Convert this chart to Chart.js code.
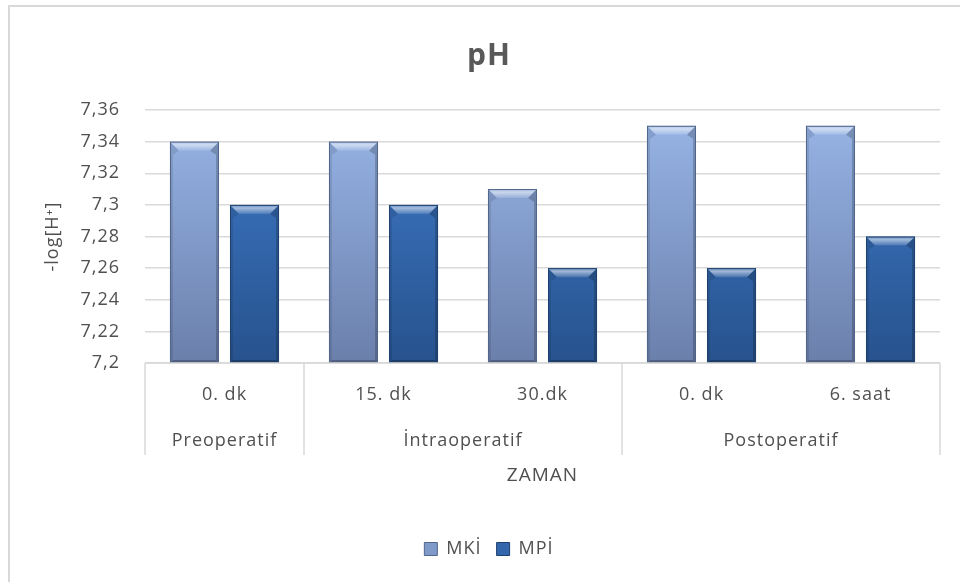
<!DOCTYPE html>
<html>
<head>
<meta charset="utf-8">
<script src="https://cdn.jsdelivr.net/npm/chart.js@4"></script>
<style>
    html, body { margin: 0; padding: 0; background: #fff; overflow: hidden; }
    #frame { position: absolute; left: 8px; top: 5px; width: 1000px; height: 700px; border: 2px solid #d9d9d9; }
    #wrap { position: absolute; left: 0; top: 0; width: 960px; height: 582px; }
</style>
</head>
<body>
<div id="frame"></div>
<div id="wrap"><canvas id="ph-chart"></canvas></div>
<script>
// Chart data
const timeLabels = ['0. dk', '15. dk', '30.dk', '0. dk', '6. saat'];
const phaseLabels = ['Preoperatif', 'İntraoperatif', 'Postoperatif'];
const phaseSpans = [1, 2, 2];
const mkiValues = [7.34, 7.34, 7.31, 7.35, 7.35];
const mpiValues = [7.30, 7.30, 7.26, 7.26, 7.28];
const yMin = 7.2;
const yMax = 7.36;
const yStep = 0.02;

const textColor = '#505050';
const lineColor = '#d9d9d9';
const fontFamily = '"Open Sans", Lato, sans-serif';

// Vertical gradient across the plot area
function barGradient(chart, topColor, bottomColor) {
    const area = chart.chartArea;
    if (!area) return bottomColor;
    const g = chart.ctx.createLinearGradient(0, area.top, 0, area.bottom);
    g.addColorStop(0, topColor);
    g.addColorStop(1, bottomColor);
    return g;
}

// Format tick as 7,36 / 7,3 / 7,2
function formatTick(value) {
    return parseFloat(value.toFixed(2)).toString().replace('.', ',');
}

// Slightly spaced lettering, like the original rendering
const spacingPlugin = {
    id: 'spacing',
    beforeUpdate(chart) { chart.ctx.letterSpacing = '1px'; },
    beforeDraw(chart) { chart.ctx.letterSpacing = '1px'; }
};

// Bevel highlights on each bar (uses the bar elements placed by Chart.js)
const bevelPlugin = {
    id: 'bevel',
    afterDatasetsDraw(chart) {
        const ctx = chart.ctx;
        const area = chart.chartArea;
        ctx.save();
        ctx.beginPath();
        ctx.rect(area.left, area.top, area.right - area.left, area.bottom - area.top);
        ctx.clip();
        chart.data.datasets.forEach((ds, di) => {
            chart.getDatasetMeta(di).data.forEach(bar => {
                const l = bar.x - bar.width / 2;
                const r = bar.x + bar.width / 2;
                const t = bar.y;
                const b = Math.min(bar.base, area.bottom);
                const tb = 9, sb = 3;
                // top bevel
                const tg = ctx.createLinearGradient(0, t, 0, t + tb);
                tg.addColorStop(0, 'rgba(255,255,255,0.25)');
                tg.addColorStop(0.35, 'rgba(255,255,255,0.55)');
                tg.addColorStop(1, 'rgba(255,255,255,0.12)');
                ctx.beginPath();
                ctx.moveTo(l, t); ctx.lineTo(r, t); ctx.lineTo(r - tb, t + tb); ctx.lineTo(l + tb, t + tb);
                ctx.closePath();
                ctx.fillStyle = tg;
                ctx.fill();
                // left side
                ctx.beginPath();
                ctx.moveTo(l, t); ctx.lineTo(l + tb, t + tb); ctx.lineTo(l + sb, t + tb + 4); ctx.lineTo(l + sb, b - sb); ctx.lineTo(l, b);
                ctx.closePath();
                ctx.fillStyle = 'rgba(0,0,0,0.10)';
                ctx.fill();
                // right side
                ctx.beginPath();
                ctx.moveTo(r, t); ctx.lineTo(r - tb, t + tb); ctx.lineTo(r - sb, t + tb + 4); ctx.lineTo(r - sb, b - sb); ctx.lineTo(r, b);
                ctx.closePath();
                ctx.fillStyle = 'rgba(0,0,0,0.2)';
                ctx.fill();
                // bottom
                ctx.beginPath();
                ctx.moveTo(l, b); ctx.lineTo(r, b); ctx.lineTo(r - sb, b - sb); ctx.lineTo(l + sb, b - sb);
                ctx.closePath();
                ctx.fillStyle = 'rgba(0,0,0,0.25)';
                ctx.fill();
                // outline
                ctx.strokeStyle = ds.borderColor;
                ctx.lineWidth = 1;
                ctx.strokeRect(l + 0.5, t + 0.5, r - l - 1, b - t - 1);
            });
        });
        ctx.restore();
    }
};

// Two-level category table under the plot
const categoryTablePlugin = {
    id: 'categoryTable',
    afterDraw(chart) {
        const ctx = chart.ctx;
        const area = chart.chartArea;
        const xs = chart.scales.x;
        const catW = (area.right - area.left) / timeLabels.length;
        const tableH = 92;
        ctx.save();
        ctx.strokeStyle = lineColor;
        ctx.lineWidth = 1.5;
        ctx.beginPath();
        ctx.moveTo(area.left, area.bottom);
        ctx.lineTo(area.right, area.bottom);
        let idx = 0;
        ctx.moveTo(area.left, area.bottom);
        ctx.lineTo(area.left, area.bottom + tableH);
        phaseSpans.forEach(span => {
            idx += span;
            const x = area.left + idx * catW;
            ctx.moveTo(x, area.bottom);
            ctx.lineTo(x, area.bottom + tableH);
        });
        ctx.stroke();

        ctx.fillStyle = textColor;
        ctx.font = '18px ' + fontFamily;
        ctx.letterSpacing = '1px';
        ctx.textAlign = 'center';
        ctx.textBaseline = 'middle';
        timeLabels.forEach((label, i) => {
            ctx.fillText(label, xs.getPixelForValue(i), area.bottom + 32);
        });
        idx = 0;
        phaseLabels.forEach((label, i) => {
            const first = xs.getPixelForValue(idx);
            const last = xs.getPixelForValue(idx + phaseSpans[i] - 1);
            ctx.fillText(label, (first + last) / 2, area.bottom + 78);
            idx += phaseSpans[i];
        });
        ctx.restore();
    }
};

const ctx = document.getElementById('ph-chart').getContext('2d');
new Chart(ctx, {
    type: 'bar',
    data: {
        labels: timeLabels,
        datasets: [
            {
                label: 'MKİ',
                data: mkiValues,
                backgroundColor: context => barGradient(context.chart, '#98b6e8', '#6b7fab'),
                borderColor: '#52658b',
                borderWidth: 0,
                categoryPercentage: 0.755,
                barPercentage: 0.817
            },
            {
                label: 'MPİ',
                data: mpiValues,
                backgroundColor: context => barGradient(context.chart, '#3f7bcb', '#27528d'),
                borderColor: '#1f416f',
                borderWidth: 0,
                categoryPercentage: 0.755,
                barPercentage: 0.817
            }
        ]
    },
    options: {
        responsive: true,
        maintainAspectRatio: false,
        animation: false,
        layout: {
            padding: { left: 38, right: 20, top: 0, bottom: 14 }
        },
        scales: {
            x: {
                ticks: { display: false },
                grid: { display: false },
                border: { display: false },
                title: {
                    display: true,
                    text: 'ZAMAN',
                    color: textColor,
                    font: { family: fontFamily, size: 19 },
                    padding: { top: 0, bottom: 38 }
                },
                afterFit: scale => { scale.height = 162; }
            },
            y: {
                min: yMin,
                max: yMax,
                ticks: {
                    stepSize: yStep,
                    color: textColor,
                    padding: 25,
                    font: { family: fontFamily, size: 18 },
                    callback: value => formatTick(value)
                },
                grid: { color: lineColor, lineWidth: 1.5, drawTicks: false },
                border: { display: false },
                title: {
                    display: true,
                    text: '-log[H⁺]',
                    color: textColor,
                    font: { family: fontFamily, size: 18 },
                    padding: { top: 4, bottom: 0 }
                },
                afterFit: scale => { scale.width = 107; }
            }
        },
        plugins: {
            title: {
                display: true,
                text: 'pH',
                color: '#595959',
                font: { family: fontFamily, size: 30, weight: 'bold' },
                padding: { top: 38, bottom: 36 }
            },
            legend: {
                position: 'bottom',
                labels: {
                    color: textColor,
                    boxWidth: 13,
                    boxHeight: 13,
                    padding: 15,
                    font: { family: fontFamily, size: 18 },
                    generateLabels: chart => chart.data.datasets.map((ds, i) => ({
                        text: ds.label,
                        fillStyle: i === 0 ? '#7f99c9' : '#3366aa',
                        strokeStyle: ds.borderColor,
                        lineWidth: 1,
                        fontColor: textColor,
                        datasetIndex: i
                    }))
                }
            },
            tooltip: { enabled: false }
        }
    },
    plugins: [spacingPlugin, bevelPlugin, categoryTablePlugin]
});
</script>
</body>
</html>
